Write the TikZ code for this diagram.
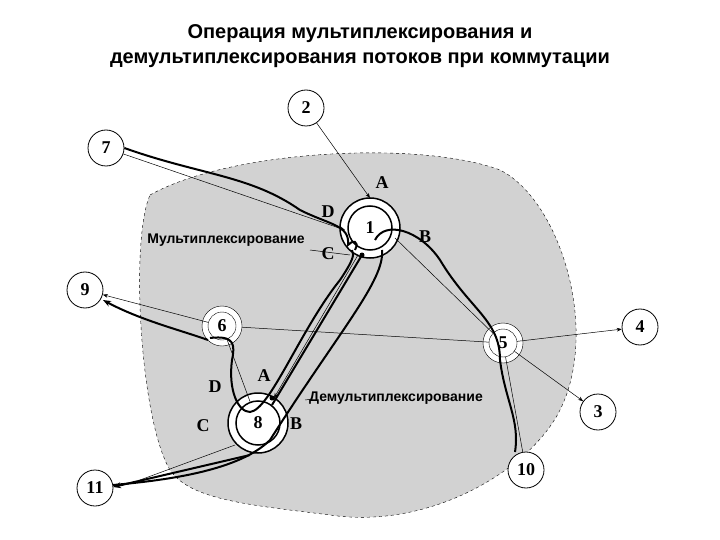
\documentclass[tikz,border=0pt]{standalone}
\usepackage{fontspec}
\setmainfont{Liberation Serif}
\newfontfamily\ars{Liberation Sans}
\usetikzlibrary{arrows.meta}
\begin{document}
\begin{tikzpicture}[x=1pt,y=-1pt,
 nd/.style={circle,draw,thick,fill=white,minimum size=36pt,inner sep=0pt,font=\bfseries\fontsize{18}{20}\selectfont},
 thinl/.style={draw,line width=0.5pt},
 thk/.style={draw,line width=2pt},
 lb/.style={font=\bfseries\fontsize{18}{20}\selectfont},
 sl/.style={font=\ars\bfseries\fontsize{14}{16}\selectfont}]
\useasboundingbox (0,0) rectangle (720,540);
\node[font=\ars\bfseries\fontsize{20}{25}\selectfont,align=center] (t) at (360,46) {Операция мультиплексирования и\\демультиплексирования потоков при коммутации};
\fill[gray!35] (150,195) .. controls (230,150) and (420,140) .. (500,170)
 .. controls (560,200) and (600,330) .. (560,410)
 .. controls (530,470) and (430,530) .. (330,515)
 .. controls (250,505) and (190,500) .. (170,470)
 .. controls (140,420) and (130,240) .. (150,195) -- cycle;
\draw[dashed,line width=0.4pt] (150,195) .. controls (230,150) and (420,140) .. (500,170)
 .. controls (560,200) and (600,330) .. (560,410)
 .. controls (530,470) and (430,530) .. (330,515)
 .. controls (250,505) and (190,500) .. (170,470)
 .. controls (140,420) and (130,240) .. (150,195) -- cycle;
\node[circle,draw,line width=1.5pt,fill=white,minimum size=60pt] (r1) at (370,228) {};
\node[circle,draw,line width=1.5pt,fill=white,minimum size=44pt,font=\bfseries\fontsize{18}{20}\selectfont] (n1) at (370,228) {1};
\node[circle,draw,line width=1.5pt,fill=white,minimum size=60pt] (r8) at (258,423) {};
\node[circle,draw,line width=1.5pt,fill=white,minimum size=44pt,font=\bfseries\fontsize{18}{20}\selectfont] (n8) at (258,423) {8};
\node[circle,draw,thin,fill=white,minimum size=40pt] (r6) at (222,326) {};
\node[circle,draw,thin,fill=white,minimum size=28pt,font=\bfseries\fontsize{18}{20}\selectfont] (n6) at (222,326) {6};
\node[circle,draw,thin,fill=white,minimum size=40pt] (r5) at (503,343) {};
\node[circle,draw,thin,fill=white,minimum size=28pt,font=\bfseries\fontsize{18}{20}\selectfont] (n5) at (503,343) {5};
\node[nd] (n2) at (306,108) {2};
\node[nd] (n7) at (106,148) {7};
\node[nd] (n9) at (85,290) {9};
\node[nd] (n4) at (640,327) {4};
\node[nd] (n3) at (598,412) {3};
\node[nd] (n10) at (526,470) {10};
\node[nd] (n11) at (95,488) {11};
\coordinate (a1) at (370,198);
\coordinate (d1) at (345,230);
\coordinate (c1) at (358,255);
\coordinate (b1) at (395,238);
\draw[thinl,-{Stealth[length=5pt]}] (n2) -- (a1);
\draw[thinl,-{Stealth[length=5pt]}] (n7) -- (d1);
\draw[thinl] (b1) -- (n5);
\draw[thinl,-{Stealth[length=5pt]}] (n5) -- (n4);
\draw[thinl] (r6) -- (n5);
\draw[thinl,-{Stealth[length=5pt]}] (n5) -- (n3);
\draw[thinl] (n5) -- (n10);
\draw[thinl,-{Stealth[length=5pt]}] (n6) -- (n9);
\draw[thinl] (n6) -- (n8);
\draw[thinl,-{Stealth[length=5pt]}] (c1) -- (274,398);
\draw[thinl] (305,400) -- (312,399);
\draw[thinl] (310,250) -- (350,255);
\draw[thinl] (235,445) -- (140,480);
\draw[thk] (n7.east) .. controls (200,175) and (250,175) .. (300,210) .. controls (330,225) and (350,225) .. (348,245) .. controls (352,240) and (360,240) .. (355,250);
\draw[thk] (375,240) .. controls (385,220) and (420,230) .. (440,260) .. controls (470,310) and (500,320) .. (500,360) .. controls (505,400) and (520,420) .. (515,452);
\draw[thk,-{Stealth[length=8pt]}] (208,340) .. controls (180,330) and (140,320) .. (103,300);
\draw[thk] (210,338) .. controls (235,335) and (235,345) .. (232,360) .. controls (228,390) and (238,412) .. (250,412) .. controls (270,410) and (300,330) .. (340,280) .. controls (352,262) and (355,255) .. (352,250);
\draw[thk] (362,255) -- (272,405);
\draw[thk] (382,250) .. controls (385,280) and (340,330) .. (270,440) .. controls (240,470) and (170,480) .. (113,485);
\draw[thk,-{Stealth[length=8pt]}] (250,455) -- (113,487);
\fill (362,255) circle (2.5pt);
\fill (272,398) circle (2.5pt);
\node[lb] (la1) at (382,183) {A};
\node[lb] (ld1) at (328,212) {D};
\node[lb] (lc1) at (328,254) {C};
\node[lb] (lb1) at (425,237) {B};
\node[lb] (la8) at (264,376) {A};
\node[lb] (ld8) at (215,387) {D};
\node[lb] (lc8) at (203,426) {C};
\node[lb] (lb8) at (296,424) {B};
\node[sl] (mux) at (226,240) {Мультиплексирование};
\node[sl] (dmx) at (396,398) {Демультиплексирование};
\end{tikzpicture}
\end{document}
